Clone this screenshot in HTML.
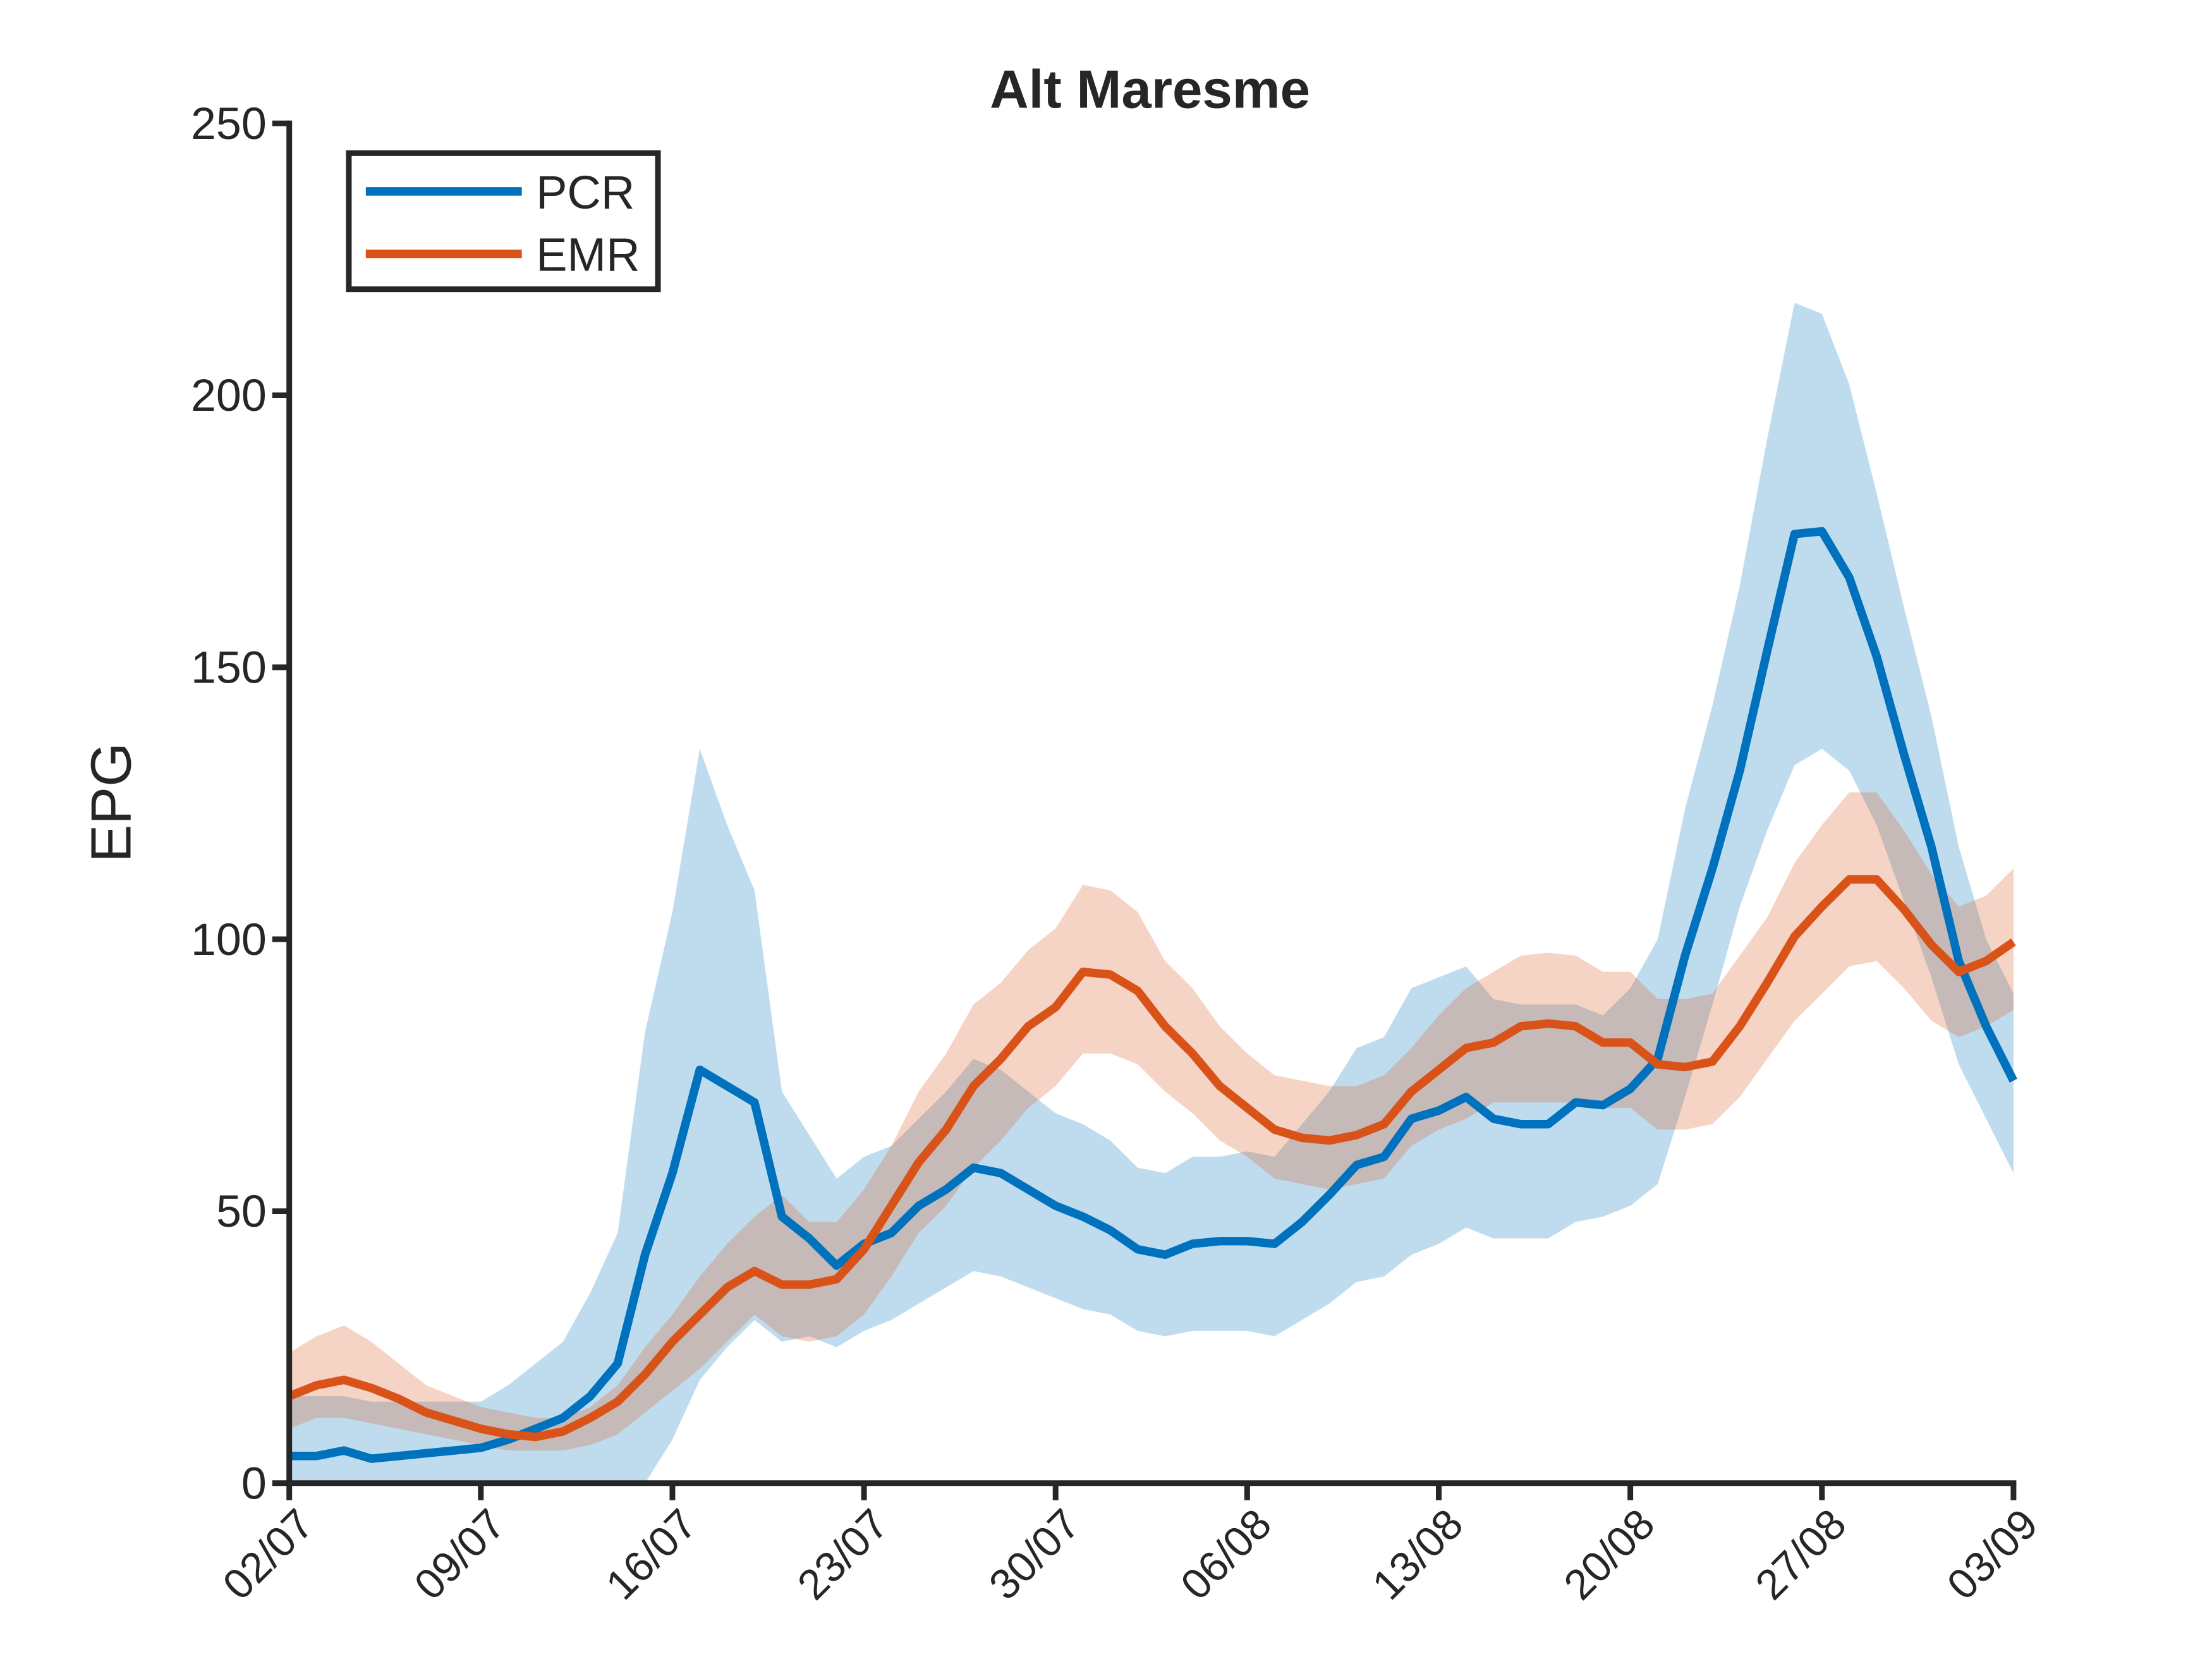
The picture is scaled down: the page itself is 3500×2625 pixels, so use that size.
<!DOCTYPE html>
<html><head><meta charset="utf-8"><style>
html,body{margin:0;padding:0;background:#fff;}
svg{display:block;}
text{font-family:"Liberation Sans",Arial,sans-serif;fill:#262626;}
</style></head><body>
<svg id="chart" width="3500" height="2625" viewBox="0 0 1560 1170" xmlns="http://www.w3.org/2000/svg">
<rect width="1560" height="1170" fill="#fff"/>
<g id="bands"></g>
<g id="lines"></g>
<g id="axes"></g>
<text x="811" y="76" text-anchor="middle" font-size="38" font-weight="bold" fill="#000">Alt Maresme</text>
<text transform="translate(92,566) rotate(-90)" text-anchor="middle" font-size="40">EPG</text>
<g>
<rect x="246" y="108" width="218" height="96" fill="#fff" stroke="#262626" stroke-width="4"/>
<line x1="258" y1="135" x2="368" y2="135" stroke="#0072BD" stroke-width="6"/>
<text x="378" y="147" font-size="33" fill="#000">PCR</text>
<line x1="258" y1="179" x2="368" y2="179" stroke="#D95319" stroke-width="6"/>
<text x="378" y="191" font-size="33" fill="#000">EMR</text>
</g>
</svg>
<script>
const xTickLabels=["02/07","09/07","16/07","23/07","30/07","06/08","13/08","20/08","27/08","03/09"];
const yTicks=[0,50,100,150,200,250];
const pcrMean=[5,5,6,4.5,5,5.5,6,6.5,8,10,12,16,22,42,57,76,73,70,49,45,40,44,46,51,54,58,57,54,51,49,46.5,43,42,44,44.5,44.5,44,48,53,58.5,60,67,68.5,71,67,66,66,70,69.5,72.5,78,97,113,131,153,174.5,175,166.5,152,134,117,96,84,74];
const pcrUpper=[16,16,16,15,15,15,15,15,18,22,26,35,46,83,105,135,121,109,72,64,56,60,62,67,72,78,76,72,68,66,63,58,57,60,60,61,60,66,72,80,82,91,93,95,89,88,88,88,86,91,100,124,143,165,192,217,215,202,182,161,141,117,100,90];
const pcrLower=[0,0,0,0,0,0,0,0,0,0,0,0,0,0,8,19,25,30,26,27,25,28,30,33,36,39,38,36,34,32,31,28,27,28,28,28,27,30,33,37,38,42,44,47,45,45,45,48,49,51,55,71,88,106,120,132,135,131,121,107,93,77,67,57];
const emrMean=[16,18,19,17.5,15.5,13,11.5,10,9,8.5,9.5,12,15,20,26,31,36,39,36.5,36.5,37.5,43,51,59,65,73,78,84,87.5,94,93.5,90.5,84,79,73,69,65,63.5,63,64,66,72,76,80,81,84,84.5,84,81,81,77,76.5,77.5,84,92,100.5,106,111,111,105.5,99,94,96,99.5];
const emrUpper=[24,27,29,26,22,18,16,14,13,12,12,14,18,25,31,38,44,49,53,48,48,54,62,72,79,88,92,98,102,110,109,105,96,91,84,79,75,74,73,73,75,80,86,91,94,97,97.5,97,94,94,89,89,90,97,104,114,121,127,127,120,112,106,108,113];
const emrLower=[10,12,12,11,10,9,8,7,6,6,6,7,9,13,17,21,26,31,27,26,27,31,38,46,51,58,63,69,73,79,79,77,72,68,63,60,56,55,54,55,56,62,65,67,70,70,70,70,69,69,65,65,66,71,78,85,90,95,96,91,85,82,84,87];

const X0=204,X1=1420,Y0=1046,Y1=87,NS="http://www.w3.org/2000/svg";
const nDays=pcrMean.length-1;
const xs=i=>X0+(X1-X0)*i/nDays;
const ys=v=>Y0-(Y0-Y1)*v/250;
function mk(tag,attrs,parent){const e=document.createElementNS(NS,tag);for(const k in attrs)e.setAttribute(k,attrs[k]);parent.appendChild(e);return e;}
const bands=document.getElementById('bands'),lines=document.getElementById('lines'),axes=document.getElementById('axes');
function band(up,lo,color,name){
  let d=up.map((v,i)=>(i?'L':'M')+xs(i)+','+ys(v)).join('');
  for(let i=lo.length-1;i>=0;i--)d+='L'+xs(i)+','+ys(lo[i]);
  const p=mk('path',{d:d+'Z',fill:color,'fill-opacity':0.25,stroke:'none'},bands);
  
  
}
function line(vals,color,name){
  const p=mk('path',{d:vals.map((v,i)=>(i?'L':'M')+xs(i)+','+ys(v)).join(''),fill:'none',stroke:color,'stroke-width':6,'stroke-linejoin':'round'},lines);
  
  
}
band(pcrUpper,pcrLower,'#0072BD','pcr-band');
band(emrUpper,emrLower,'#D95319','emr-band');
line(pcrMean,'#0072BD','pcr-line');
line(emrMean,'#D95319','emr-line');
let a=mk('line',{x1:X0,y1:Y1-2,x2:X0,y2:Y0+2,stroke:'#262626','stroke-width':4},axes);


a=mk('line',{x1:X0-2,y1:Y0,x2:X1+2,y2:Y0,stroke:'#262626','stroke-width':4},axes);


yTicks.forEach(v=>{
  const y=ys(v);
  const t=mk('line',{x1:X0,y1:y,x2:X0-12,y2:y,stroke:'#262626','stroke-width':4},axes);
  
  
  const l=mk('text',{x:X0-16,y:y+11,'text-anchor':'end','font-size':32},axes);
  l.textContent=v;
  
  
});
xTickLabels.forEach((s,i)=>{
  const x=X0+(X1-X0)*i/(xTickLabels.length-1);
  const t=mk('line',{x1:x,y1:Y0,x2:x,y2:Y0+12,stroke:'#262626','stroke-width':4},axes);
  
  
  const l=mk('text',{transform:`translate(${x+4},${Y0+16}) rotate(-45)`,'text-anchor':'end','font-size':30,dy:'0.7em'},axes);
  l.textContent=s;
  
  
});
</script>
</body></html>
